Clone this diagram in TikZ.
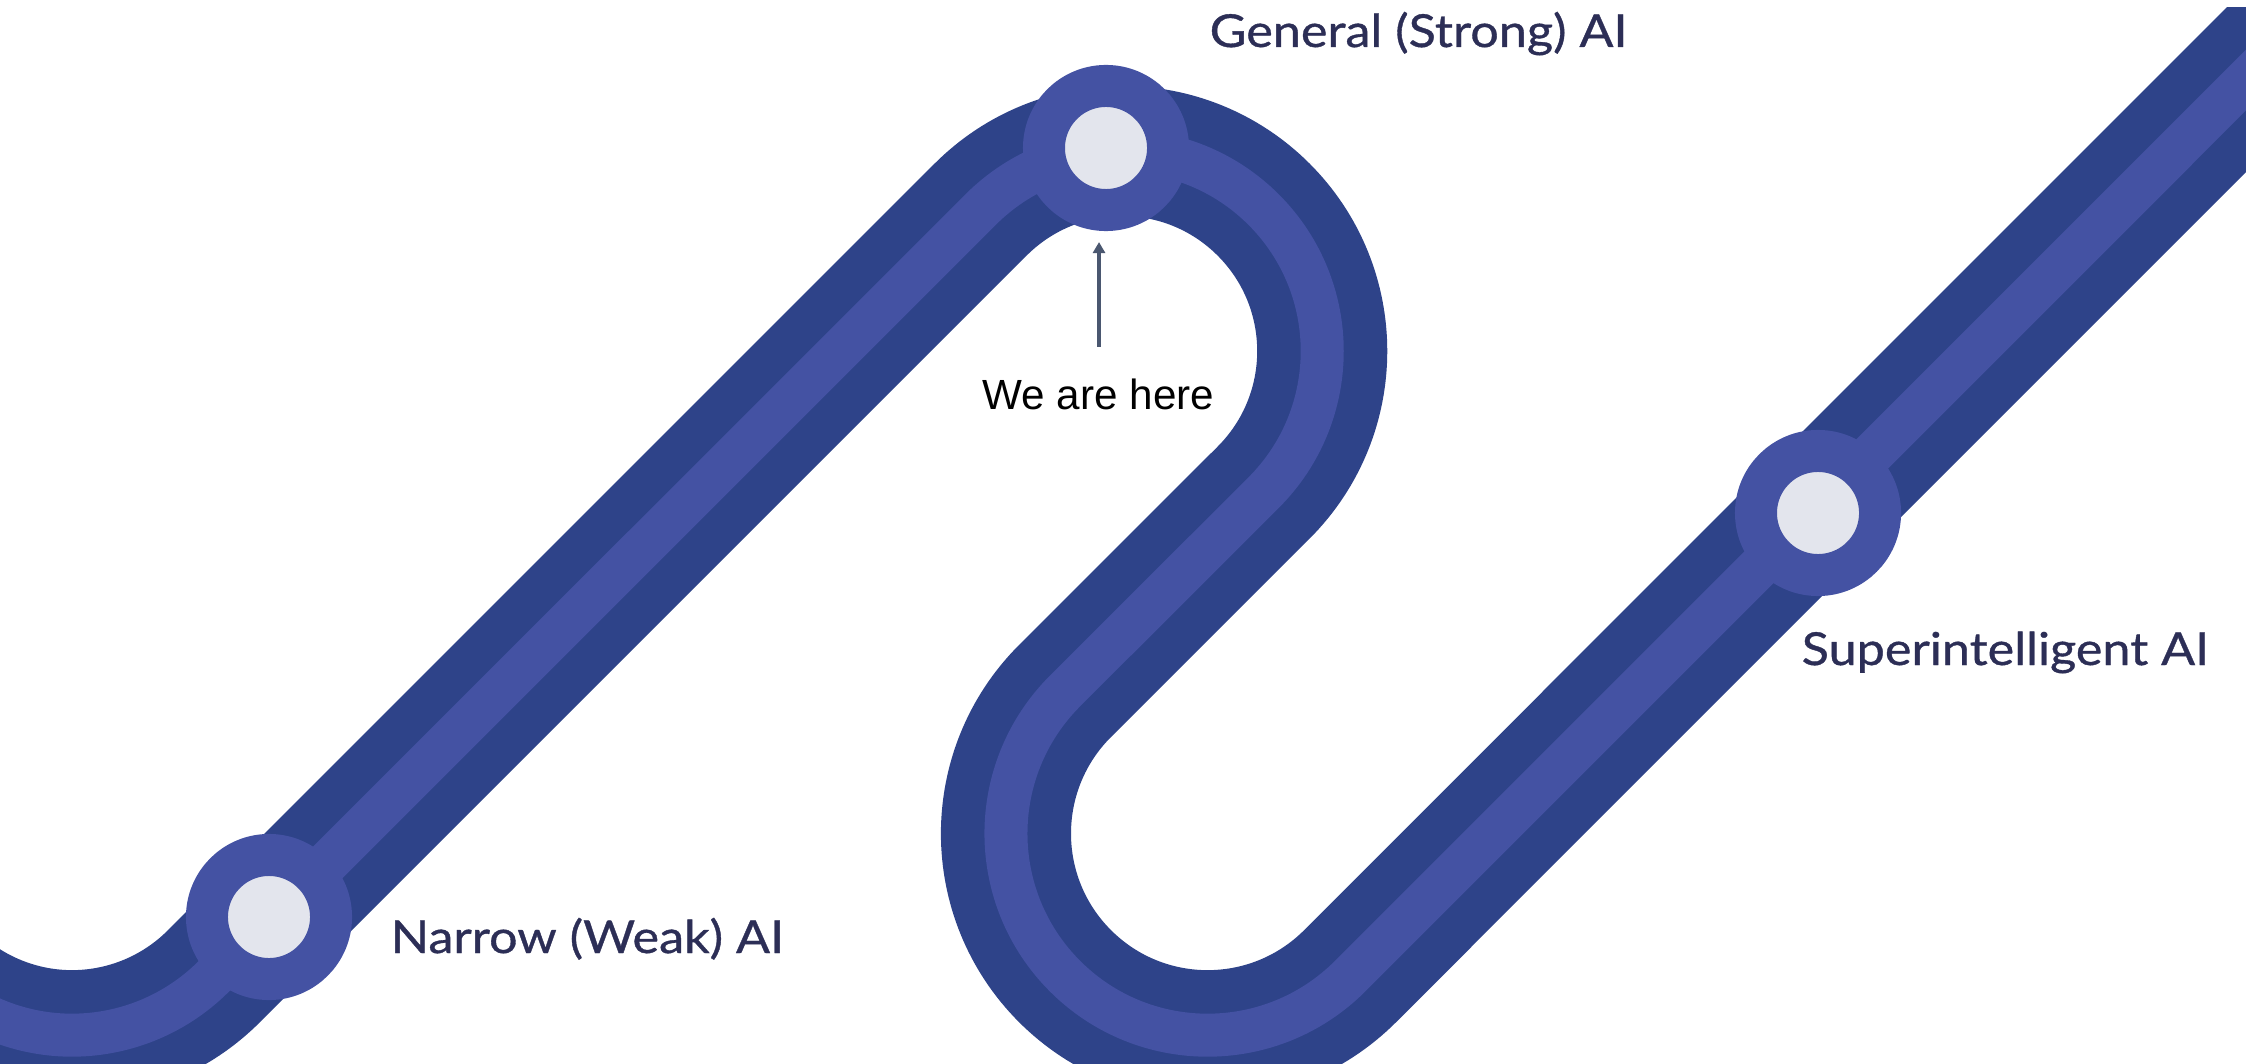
\documentclass[tikz,border=0pt]{standalone}
\usepackage{fontspec}
\setmainfont{Lato}
\newfontfamily\labelfont{Lato}[FakeStretch=1.11,FakeBold=0.8]
\newfontfamily\herefont{Liberation Sans}
\usetikzlibrary{arrows.meta}
\definecolor{roaddark}{RGB}{46,67,137}
\definecolor{roadlight}{RGB}{68,82,163}
\definecolor{stopinner}{RGB}{227,229,237}
\definecolor{labelnavy}{RGB}{44,46,86}
\definecolor{pointer}{RGB}{74,87,112}
\begin{document}
\begin{tikzpicture}[x=0.01cm,y=0.01cm,
  roadbase/.style={draw=roaddark,line width=1.30cm},
  roadstripe/.style={draw=roadlight,line width=0.43cm},
  stop/.style={circle,draw=roadlight,line width=0.42cm,fill=stopinner,minimum size=1.24cm,inner sep=0pt},
  milestone/.style={anchor=base west,inner sep=0pt,text=labelnavy,font=\labelfont\fontsize{12.9}{15}\selectfont},
  note/.style={anchor=base west,inner sep=0pt,text=black,font=\herefont\fontsize{12}{14}\selectfont},
  pointerarrow/.style={draw=pointer,line width=0.033cm,-{Triangle[length=0.11cm,width=0.12cm]}}]

\fill[white] (0,0) rectangle (2246,1063);
\useasboundingbox (0,0) rectangle (2246,1063);

\begin{scope}
\clip (0,0) rectangle (2246,1055);
\draw[roadstripe,preaction={roadbase}]
  (-121.2,176.2) arc[start angle=195,end angle=315,radius=2cm]
  -- (980.6,853.4) arc[start angle=135,end angle=-45,radius=2cm]
  -- (1065.0,372.0) arc[start angle=135,end angle=315,radius=2.015cm]
  -- (2350,1087);
\end{scope}

\node[stop] (narrow) at (269,146) {};
\node[stop] (general) at (1106,915) {};
\node[stop] (super) at (1818,550) {};

\node[milestone] (narrowlbl) at (390,110) {Narrow (Weak) AI};
\node[milestone] (generallbl) at (1209,1016) {General (Strong) AI};
\node[milestone] (superlbl) at (1801,398) {Superintelligent AI};

\node[note] (here) at (982,653) {We are here};
\coordinate (arrowtail) at (1099,716);
\draw[pointerarrow,shorten >=0.11cm] (arrowtail) -- (arrowtail |- general.south);
\end{tikzpicture}
\end{document}
